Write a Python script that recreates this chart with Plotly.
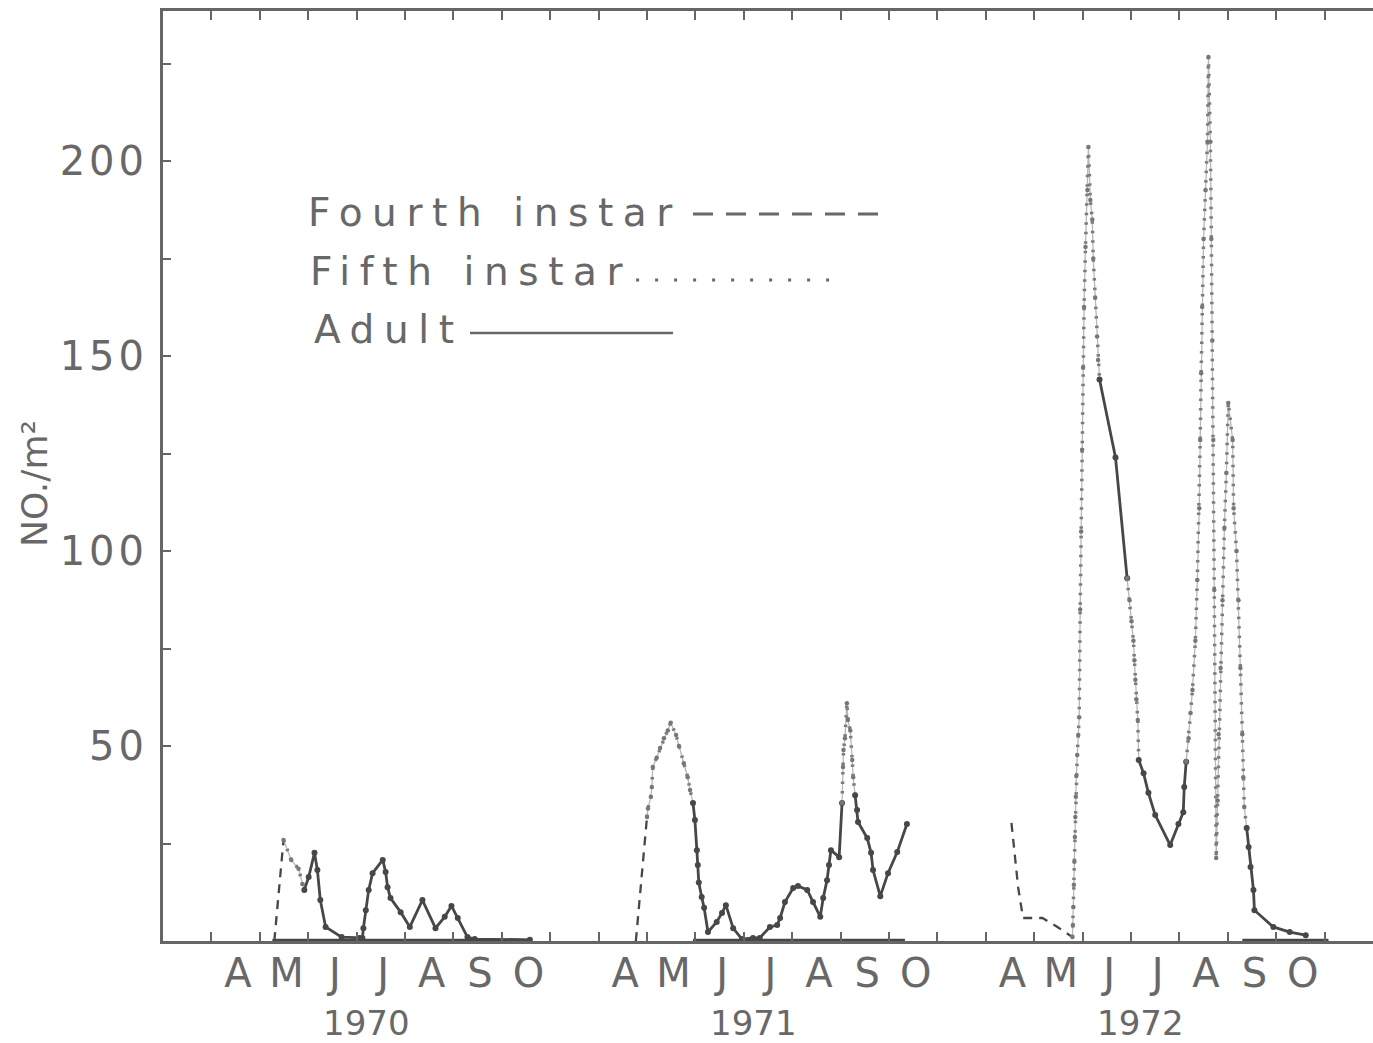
import json
import plotly.graph_objects as go

# ---------------- data ----------------
YEARS = ["1970", "1971", "1972"]
MONTHS = ["A", "M", "J", "J", "A", "S", "O"]
Y_TICKS = [25, 50, 75, 100, 125, 150, 175, 200, 225]
Y_TICK_TEXT = ["", "50", "", "100", "", "150", "", "200", ""]
LEGEND_LABELS = ["Fourth instar", "Fifth instar", "Adult"]
Y_TITLE = "NO./m²"

# x = months since 1 April of the year, y = number per m²
fourth_1970_x = [1.30, 1.49]
fourth_1970_y = [0.0, 25.9]
fifth_1970_x = [1.49, 1.65, 1.80, 1.88, 1.92]
fifth_1970_y = [25.9, 20.8, 18.5, 14.6, 13.1]
adult_1970_x = [1.92, 2.01, 2.13, 2.19, 2.25, 2.36, 2.69, 3.06, 3.12, 3.14, 3.19, 3.25, 3.33, 3.54,
                3.60, 3.64, 3.70, 3.91, 4.10, 4.36, 4.63, 4.82, 4.96, 5.09, 5.29, 5.44, 6.58]
adult_1970_y = [13.1, 16.4, 22.6, 18.2, 10.5, 3.6, 1.0, 0.8, 0.8, 3.3, 7.9, 13.1, 17.4, 20.8,
                17.7, 13.8, 11.0, 7.4, 3.6, 10.5, 3.3, 6.2, 9.0, 5.9, 1.0, 0.5, 0.3]
adult_zero_1970_x = [1.26, 6.58]

fourth_1971_x = [0.77, 1.00]
fourth_1971_y = [0.0, 31.8]
fifth_1971a_x = [1.00, 1.02, 1.08, 1.10, 1.12, 1.20, 1.27, 1.35, 1.43, 1.49, 1.60, 1.66, 1.76, 1.84, 1.89, 1.95]
fifth_1971a_y = [31.8, 34.0, 37.0, 39.5, 44.6, 47.0, 49.5, 52.0, 54.0, 56.0, 52.8, 50.0, 45.6, 42.0, 38.7, 35.4]
adult_1971a_x = [1.95, 1.99, 2.03, 2.05, 2.07, 2.13, 2.18, 2.26, 2.44, 2.55, 2.63, 2.78, 2.96, 3.19, 3.33,
                 3.54, 3.69, 3.75, 3.85, 4.02, 4.12, 4.31, 4.43, 4.58, 4.64, 4.72, 4.76, 4.80, 4.97, 5.03]
adult_1971a_y = [35.4, 31.0, 23.3, 19.5, 15.0, 11.3, 8.5, 2.3, 4.9, 7.2, 9.2, 3.3, 0.5, 0.8, 0.8,
                 3.6, 4.1, 5.9, 10.0, 13.6, 14.1, 13.1, 10.0, 6.2, 11.0, 15.6, 19.5, 23.3, 21.5, 35.4]
fifth_1971b_x = [5.03, 5.05, 5.06, 5.09, 5.13, 5.15, 5.20, 5.24, 5.26, 5.30]
fifth_1971b_y = [35.4, 44.6, 49.0, 52.0, 61.0, 56.7, 54.0, 46.4, 42.0, 37.4]
adult_1971b_x = [5.30, 5.34, 5.36, 5.55, 5.63, 5.67, 5.82, 5.98, 6.17, 6.37]
adult_1971b_y = [37.4, 33.6, 30.5, 26.4, 22.6, 18.2, 11.5, 17.4, 22.8, 30.0]
adult_zero_1971_x = [1.95, 6.33]

fourth_1972_x = [0.53, 0.67, 0.77, 1.17, 1.48, 1.79]
fourth_1972_y = [30.3, 13.6, 5.9, 5.9, 3.6, 1.0]
fifth_1972a_x = [1.79, 1.80, 1.81, 1.82, 1.83, 1.84, 1.85, 1.86, 1.87, 1.89, 1.91, 1.93, 1.95, 1.97,
                 1.99, 2.01, 2.03, 2.06, 2.10, 2.12, 2.16, 2.20, 2.22, 2.26, 2.30, 2.32, 2.35]
fifth_1972a_y = [1.0, 4.1, 8.7, 14.4, 20.3, 26.7, 31.8, 37.0, 42.3, 47.7, 52.8, 57.4, 85.0, 105.0,
                 126.0, 147.0, 162.6, 178.0, 192.6, 203.6, 190.0, 185.0, 175.0, 165.0, 155.0, 149.0, 144.0]
adult_1972a_x = [2.35, 2.68, 2.92]
adult_1972a_y = [144.0, 124.0, 93.0]
fifth_1972b_x = [2.92, 2.97, 3.01, 3.05, 3.07, 3.09, 3.11, 3.14, 3.16]
fifth_1972b_y = [93.0, 87.4, 82.0, 77.0, 72.0, 67.0, 62.0, 56.7, 46.4]
adult_1972b_x = [3.16, 3.26, 3.36, 3.50, 3.81, 3.98, 4.08, 4.10, 4.14]
adult_1972b_y = [46.4, 43.0, 38.0, 32.3, 24.6, 30.0, 33.0, 39.5, 46.0]
fifth_1972c_x = [4.14, 4.19, 4.23, 4.27, 4.33, 4.37, 4.41, 4.43, 4.45, 4.47, 4.50, 4.54, 4.58, 4.60,
                 4.64, 4.66, 4.68, 4.70, 4.72, 4.76, 4.79, 4.81, 4.85, 4.89, 4.93, 4.97, 5.01, 5.10,
                 5.12, 5.18, 5.22, 5.26, 5.30, 5.32, 5.34, 5.39]
fifth_1972c_y = [46.0, 52.0, 58.5, 64.4, 77.0, 92.6, 111.0, 128.5, 145.6, 162.6, 180.0, 192.6, 205.0, 226.7,
                 205.0, 180.0, 154.0, 128.5, 90.0, 21.3, 36.0, 53.0, 70.0, 87.4, 106.0, 120.0, 138.0, 128.5,
                 111.0, 100.0, 87.4, 70.0, 53.0, 42.0, 34.4, 29.0]
adult_1972c_x = [5.39, 5.43, 5.47, 5.53, 5.55, 5.94, 6.28, 6.61]
adult_1972c_y = [29.0, 24.1, 19.0, 13.1, 7.9, 3.6, 2.3, 1.5]
adult_zero_1972_x = [5.30, 7.08]

SEGMENTS = [
    (0, "fourth", fourth_1970_x, fourth_1970_y),
    (0, "fifth", fifth_1970_x, fifth_1970_y),
    (0, "adult", adult_1970_x, adult_1970_y),
    (1, "fourth", fourth_1971_x, fourth_1971_y),
    (1, "fifth", fifth_1971a_x, fifth_1971a_y),
    (1, "adult", adult_1971a_x, adult_1971a_y),
    (1, "fifth", fifth_1971b_x, fifth_1971b_y),
    (1, "adult", adult_1971b_x, adult_1971b_y),
    (2, "fourth", fourth_1972_x, fourth_1972_y),
    (2, "fifth", fifth_1972a_x, fifth_1972a_y),
    (2, "adult", adult_1972a_x, adult_1972a_y),
    (2, "fifth", fifth_1972b_x, fifth_1972b_y),
    (2, "adult", adult_1972b_x, adult_1972b_y),
    (2, "fifth", fifth_1972c_x, fifth_1972c_y),
    (2, "adult", adult_1972c_x, adult_1972c_y),
]
ZERO_SPANS = [(0, adult_zero_1970_x), (1, adult_zero_1971_x), (2, adult_zero_1972_x)]

# ---------------- styling ----------------
MONTHS_PER_BLOCK = len(MONTHS) + 1      # Apr..Oct plus one blank month between years
INK = "#474747"
TEXT = "#686868"
FONT = "DejaVu Sans"

STYLE = {
    "fourth": dict(mode="lines", line=dict(color=INK, width=2.3, dash="9px,7px")),
    "fifth": dict(mode="lines+markers", line=dict(color="#7c7c7c", width=3.5, dash="2.5px,7px"),
                  marker=dict(size=4.5, color="#777777")),
    "adult": dict(mode="lines+markers", line=dict(color=INK, width=2.8),
                  marker=dict(size=6, color=INK)),
}

fig = go.Figure()

for yi, xs in ZERO_SPANS:
    off = yi * MONTHS_PER_BLOCK
    fig.add_trace(go.Scatter(x=[v + off for v in xs], y=[0] * len(xs), mode="lines",
                             line=dict(color=INK, width=4.5), hoverinfo="skip"))

# faint continuous trail under the fifth-instar dots
for yi, stage, xs, ys in SEGMENTS:
    if stage == "fifth":
        off = yi * MONTHS_PER_BLOCK
        fig.add_trace(go.Scatter(x=[v + off for v in xs], y=ys, mode="lines",
                                 line=dict(color="#b8b8b8", width=1.3), hoverinfo="skip"))

for yi, stage, xs, ys in SEGMENTS:
    off = yi * MONTHS_PER_BLOCK
    fig.add_trace(go.Scatter(x=[v + off for v in xs], y=ys, name=stage, **STYLE[stage]))

# empty trace to carry the month-label axis
fig.add_trace(go.Scatter(x=[], y=[], xaxis="x2", yaxis="y", hoverinfo="skip"))

n_blocks = len(YEARS)
x_range = [-1, n_blocks * MONTHS_PER_BLOCK]
boundaries = list(range(0, n_blocks * MONTHS_PER_BLOCK))
month_centres, month_text = [], []
for yi in range(n_blocks):
    for mi, m in enumerate(MONTHS):
        month_centres.append(yi * MONTHS_PER_BLOCK + mi + 0.55)
        month_text.append(m)

annotations = []
for yi, yr in enumerate(YEARS):
    annotations.append(dict(x=yi * MONTHS_PER_BLOCK + 3.2, y=-0.0885, xref="x", yref="paper",
                            text=yr, showarrow=False, xanchor="center", yanchor="middle",
                            font=dict(family=FONT, size=34, color=TEXT)))
annotations.append(dict(x=-0.1058, y=0.4925, xref="paper", yref="paper", text=Y_TITLE,
                        textangle=-90, showarrow=False, xanchor="center", yanchor="middle",
                        font=dict(family=FONT, size=36, color=TEXT)))

legend_pos = [(0.118, 0.783), (0.120, 0.7204), (0.123, 0.657)]
for (lx, ly), lab in zip(legend_pos, LEGEND_LABELS):
    annotations.append(dict(x=lx, y=ly, xref="paper", yref="paper", text=lab, showarrow=False,
                            xanchor="left", yanchor="middle", align="left",
                            font=dict(family=FONT, size=39, color=TEXT)))

shapes = [
    dict(type="line", xref="paper", yref="paper", x0=0.438, x1=0.599, y0=0.7817, y1=0.7817,
         line=dict(color=TEXT, width=3, dash="20px,13px")),
    dict(type="line", xref="paper", yref="paper", x0=0.391, x1=0.562, y0=0.7108, y1=0.7108,
         line=dict(color=TEXT, width=3, dash="3px,16px")),
    dict(type="line", xref="paper", yref="paper", x0=0.2537, x1=0.4215, y0=0.6538, y1=0.6538,
         line=dict(color=TEXT, width=2.5)),
]

fig.update_layout(
    width=1373, height=1043,
    margin=dict(l=163, r=0, t=11, b=102),
    paper_bgcolor="white", plot_bgcolor="white",
    showlegend=False,
    font=dict(family=FONT, color=TEXT),
    annotations=annotations,
    shapes=shapes,
    xaxis=dict(range=x_range, tickmode="array", tickvals=boundaries, ticks="inside",
               ticklen=9, tickwidth=2, tickcolor="#666", showticklabels=False,
               showline=True, linecolor="#666", linewidth=3, mirror="ticks",
               showgrid=False, zeroline=False),
    xaxis2=dict(range=x_range, overlaying="x", anchor="y", side="bottom",
                tickmode="array", tickvals=month_centres, ticktext=month_text, ticks="",
                showline=False, showgrid=False, zeroline=False, ticklabelstandoff=5,
                tickfont=dict(family=FONT, size=40, color=TEXT)),
    yaxis=dict(range=[0, 238.5], tickmode="array", tickvals=Y_TICKS, ticktext=Y_TICK_TEXT,
               ticks="inside", ticklen=8, tickwidth=2, tickcolor="#666",
               showline=True, linecolor="#666", linewidth=3, mirror=False,
               showgrid=False, zeroline=False, ticklabelstandoff=4,
               tickfont=dict(family=FONT, size=40, color=TEXT)),
)

post = """
var gd = document.getElementById('{plot_id}');
var labels = %s;
function spread(){
  gd.querySelectorAll('.annotation-text').forEach(function(t){
    if (labels.indexOf(t.textContent) >= 0) { t.style.letterSpacing = '9.6px'; }
  });
  gd.querySelectorAll('.ytick text').forEach(function(t){ t.style.letterSpacing = '4px'; });
}
spread();
if (gd.on) { gd.on('plotly_afterplot', spread); }
""" % json.dumps(LEGEND_LABELS)

fig.write_html("out.html", post_script=post)
